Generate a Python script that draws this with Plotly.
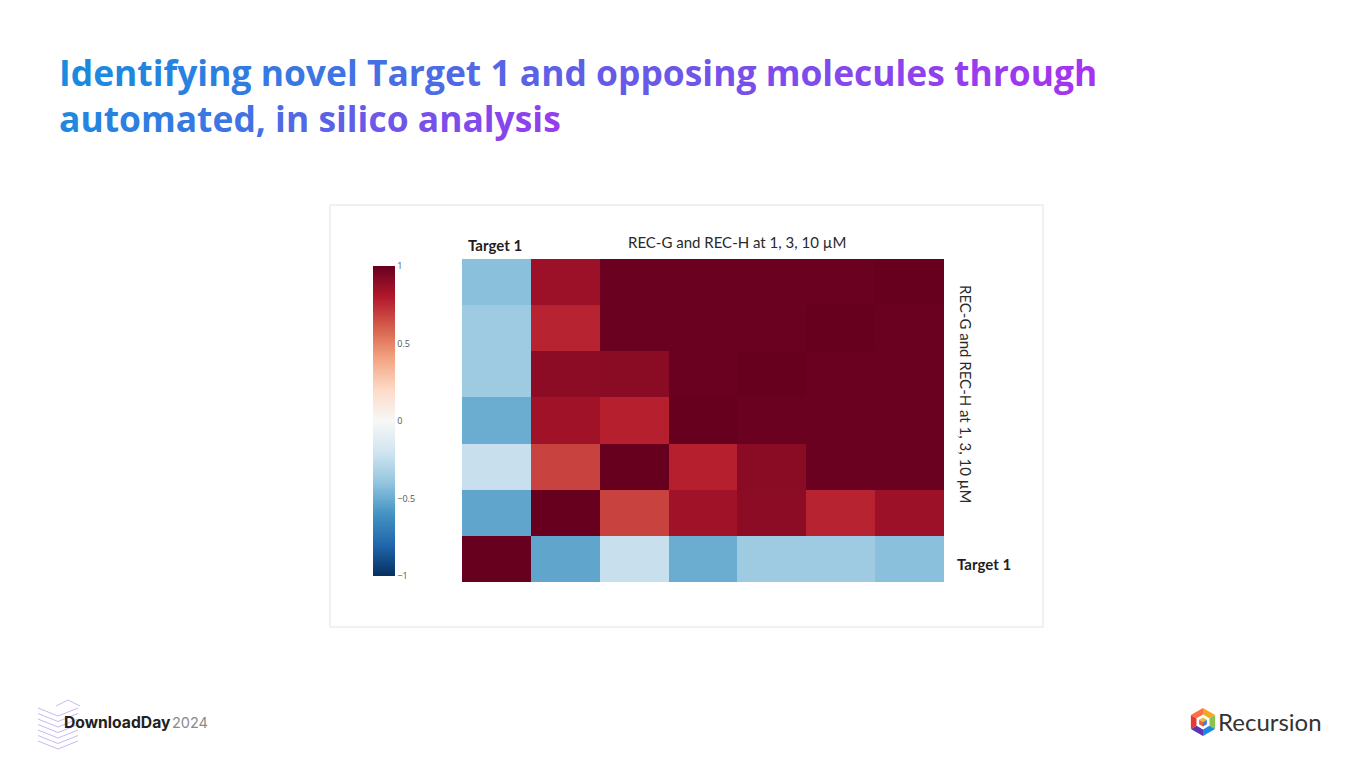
import plotly.graph_objects as go
import plotly.express as px
import math

# ---------------- data ----------------
labels = ["Target 1", "REC-G 1 µM", "REC-G 3 µM", "REC-G 10 µM",
          "REC-H 1 µM", "REC-H 3 µM", "REC-H 10 µM"]
# rows listed bottom -> top, columns left -> right
row_target1 = [1.00, -0.53, -0.23, -0.50, -0.36, -0.36, -0.42]
row_g1      = [-0.53, 1.00, 0.68, 0.85, 0.90, 0.77, 0.86]
row_g3      = [-0.23, 0.68, 1.00, 0.78, 0.91, 0.99, 0.99]
row_g10     = [-0.50, 0.85, 0.78, 1.00, 0.99, 0.99, 0.99]
row_h1      = [-0.36, 0.90, 0.91, 0.99, 1.00, 0.99, 0.99]
row_h3      = [-0.36, 0.77, 0.99, 0.99, 0.99, 1.00, 0.99]
row_h10     = [-0.42, 0.86, 0.99, 0.99, 0.99, 0.99, 1.00]
z = [row_target1, row_g1, row_g3, row_g10, row_h1, row_h3, row_h10]
cbar_ticks = [-1, -0.5, 0, 0.5, 1]
cbar_labels = ["−1", "−0.5", "0", "0.5", "1"]

OFF = 8  # page body margin
W, H = 1365 - OFF, 768 - OFF
def X(p): return (p - OFF) / W
def Y(p): return 1 - (p - OFF) / H

fig = go.Figure()
fig.add_trace(go.Heatmap(
    z=z, x=labels, y=labels,
    colorscale=px.colors.diverging.RdBu_r, zmin=-1, zmax=1,
    colorbar=dict(
        x=X(373), xanchor="left", thickness=22, thicknessmode="pixels",
        len=310 / H, lenmode="fraction", y=Y(421), yanchor="middle",
        tickvals=cbar_ticks, ticktext=cbar_labels, ticks="",
        tickfont=dict(size=9, color="#555", family="Open Sans"),
        outlinewidth=0, ypad=0, xpad=0,
    ),
))

fig.update_xaxes(domain=[X(462), X(944)], visible=False, showgrid=False)
fig.update_yaxes(domain=[Y(582), Y(259)], visible=False, showgrid=False)

# ---------------- title with gradient ----------------
def lerp(c1, c2, t):
    return tuple(int(round(a + (b - a) * t)) for a, b in zip(c1, c2))

start_c = (24, 140, 222)
end_c = (164, 52, 240)

def grad_line(text, t0, t1):
    out = []
    n = len(text)
    for i, ch in enumerate(text):
        t = t0 + (t1 - t0) * (i / max(n - 1, 1))
        r, g, b = lerp(start_c, end_c, t)
        out.append(f"<span style='color:rgb({r},{g},{b})'>{ch}</span>")
    return "".join(out)

line1 = "Identifying novel Target 1 and opposing molecules through"
line2 = "automated, in silico analysis"
title_html = "<b>" + grad_line(line1, 0, 1) + "<br>" + grad_line(line2, 0.05, 0.9) + "</b>"

def ann(**kw):
    d = dict(xref="paper", yref="paper", showarrow=False)
    d.update(kw)
    return d

annotations = [
    ann(text=title_html, x=X(57), y=Y(46), xanchor="left", yanchor="top",
        align="left", font=dict(family="Open Sans", size=35.4)),
    ann(text="<b>Target 1</b>", x=X(466), y=Y(245), xanchor="left", yanchor="middle",
        font=dict(family="Lato", size=15, color="#1f1f1f")),
    ann(text="REC-G and REC-H at 1, 3, 10 µM", x=X(737), y=Y(242),
        xanchor="center", yanchor="middle",
        font=dict(family="Lato", size=15, color="#2a2a2a")),
    ann(text="REC-G and REC-H at 1, 3, 10 µM", x=X(966), y=Y(394),
        xanchor="center", yanchor="middle", textangle=90,
        font=dict(family="Lato", size=15, color="#2a2a2a")),
    ann(text="<b>Target 1</b>", x=X(955), y=Y(564), xanchor="left", yanchor="middle",
        font=dict(family="Lato", size=15, color="#1f1f1f")),
    ann(text="<b>DownloadDay</b>", x=X(62), y=Y(722), xanchor="left", yanchor="middle",
        font=dict(family="Inter", size=15.7, color="#222")),
    ann(text="2024", x=X(170), y=Y(722), xanchor="left", yanchor="middle",
        font=dict(family="Inter", size=14.5, color="#8a8a8a")),
    ann(text="Recursion", x=X(1216), y=Y(721), xanchor="left", yanchor="middle",
        font=dict(family="Lato", size=24, color="#333")),
]

shapes = [
    dict(type="rect", xref="paper", yref="paper", x0=X(330), x1=X(1043),
         y0=Y(627), y1=Y(205), line=dict(color="#e2e2e2", width=1),
         fillcolor="rgba(0,0,0,0)", layer="below"),
]

# DownloadDay stacked chevrons
chev_col = "rgba(180,160,235,0.75)"
for k in range(7):
    y0 = 702 + k * 5.5
    half = 20
    path = f"M {X(58 - half)} {Y(y0 + 6)} L {X(58)} {Y(y0 + 14)} L {X(58 + half)} {Y(y0 + 6)}"
    shapes.append(dict(type="path", xref="paper", yref="paper", path=path,
                       line=dict(color=chev_col, width=1)))
shapes.append(dict(type="path", xref="paper", yref="paper",
                   path=f"M {X(56)} {Y(706)} L {X(68)} {Y(700)} L {X(80)} {Y(706)}",
                   line=dict(color=chev_col, width=1)))

# Recursion hexagon logo
cx, cy, R = 1203, 722, 14
hex_cols = ["#f5a623", "#8bc34a", "#1e88e5", "#5e35b1", "#e53935", "#ff7043"]
verts = [(cx + R * math.cos(math.radians(-90 + 60 * i)),
          cy + R * math.sin(math.radians(-90 + 60 * i))) for i in range(6)]
for i in range(6):
    a = verts[i]
    b = verts[(i + 1) % 6]
    path = f"M {X(cx)} {Y(cy)} L {X(a[0])} {Y(a[1])} L {X(b[0])} {Y(b[1])} Z"
    shapes.append(dict(type="path", xref="paper", yref="paper", path=path,
                       fillcolor=hex_cols[i], line=dict(width=0)))
r2 = 7.5
inner = [(cx + r2 * math.cos(math.radians(-90 + 60 * i)),
          cy + r2 * math.sin(math.radians(-90 + 60 * i))) for i in range(6)]
p = "M " + " L ".join(f"{X(a)} {Y(b)}" for a, b in inner) + " Z"
shapes.append(dict(type="path", xref="paper", yref="paper", path=p,
                   fillcolor="white", line=dict(width=0)))
r3 = 4.5
cube = [(cx + r3 * math.cos(math.radians(-90 + 60 * i)),
         cy + r3 * math.sin(math.radians(-90 + 60 * i))) for i in range(6)]
faces = [([(cx, cy), cube[5], cube[0], cube[1]], "#f7b733"),
         ([(cx, cy), cube[1], cube[2], cube[3]], "#3f7fd8"),
         ([(cx, cy), cube[3], cube[4], cube[5]], "#e8643c")]
for pts, col in faces:
    p = "M " + " L ".join(f"{X(a)} {Y(b)}" for a, b in pts) + " Z"
    shapes.append(dict(type="path", xref="paper", yref="paper", path=p,
                       fillcolor=col, line=dict(width=0)))

fig.update_layout(
    width=W, height=H, margin=dict(l=0, r=0, t=0, b=0),
    paper_bgcolor="white", plot_bgcolor="white",
    annotations=annotations, shapes=shapes, showlegend=False,
)

fig.write_html("out.html")
